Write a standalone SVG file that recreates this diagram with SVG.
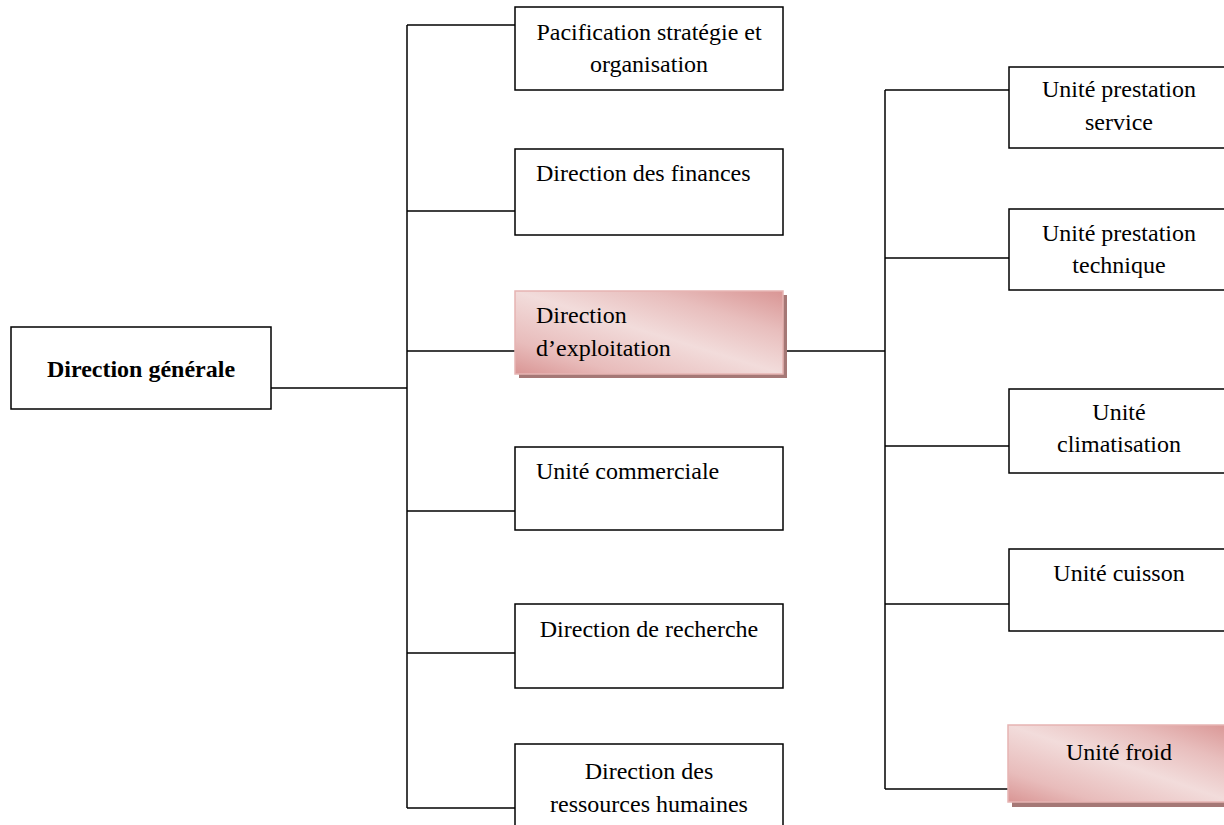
<svg xmlns="http://www.w3.org/2000/svg" width="1224" height="825" viewBox="0 0 1224 825">
<defs>
<linearGradient id="pk" x1="0" y1="1" x2="1" y2="0">
<stop offset="0" stop-color="#d99594"/>
<stop offset="0.2" stop-color="#e8bcbb"/>
<stop offset="0.5" stop-color="#f2dcdb"/>
<stop offset="0.75" stop-color="#e8bebd"/>
<stop offset="1" stop-color="#d99594"/>
</linearGradient>
<style>
.b{fill:#fff;stroke:#000;stroke-width:1.5}
.p{fill:url(#pk);stroke:#e6b4b3;stroke-width:1.5}
.s{fill:#a57876}
#connectors line{stroke:#000;stroke-width:1.5}
</style>
</defs>
<rect width="1224" height="825" fill="#fff"/>
<g id="connectors">
<line x1="271" y1="388" x2="407" y2="388"/>
<line x1="407" y1="25" x2="407" y2="808"/>
<line x1="407" y1="25" x2="515" y2="25"/>
<line x1="407" y1="211" x2="515" y2="211"/>
<line x1="407" y1="351" x2="515" y2="351"/>
<line x1="407" y1="511" x2="515" y2="511"/>
<line x1="407" y1="653" x2="515" y2="653"/>
<line x1="407" y1="808" x2="515" y2="808"/>
<line x1="783" y1="351" x2="885" y2="351"/>
<line x1="885" y1="90" x2="885" y2="789"/>
<line x1="885" y1="90" x2="1009" y2="90"/>
<line x1="885" y1="258" x2="1009" y2="258"/>
<line x1="885" y1="446" x2="1009" y2="446"/>
<line x1="885" y1="604" x2="1009" y2="604"/>
<line x1="885" y1="789" x2="1009" y2="789"/>
</g>
<g font-family="'Liberation Serif', 'Times New Roman', serif" font-size="24" fill="#000">
<g id="n-dg">
<rect class="b" x="11" y="327" width="260" height="82"/>
<text x="141" y="377" text-anchor="middle" font-weight="bold">Direction générale</text>
</g>
<g id="n-pso">
<rect class="b" x="515" y="7" width="268" height="83"/>
<text x="649" y="40" text-anchor="middle">Pacification stratégie et</text>
<text x="649" y="72" text-anchor="middle">organisation</text>
</g>
<g id="n-df">
<rect class="b" x="515" y="149" width="268" height="86"/>
<text x="536" y="181">Direction des finances</text>
</g>
<g id="n-de">
<rect class="s" x="519" y="295" width="268" height="83"/>
<rect class="p" x="515" y="291" width="268" height="83"/>
<text x="536" y="323">Direction</text>
<text x="536" y="356">d’exploitation</text>
</g>
<g id="n-uc">
<rect class="b" x="515" y="447" width="268" height="83"/>
<text x="536" y="479">Unité commerciale</text>
</g>
<g id="n-dr">
<rect class="b" x="515" y="604" width="268" height="84"/>
<text x="649" y="637" text-anchor="middle">Direction de recherche</text>
</g>
<g id="n-drh">
<rect class="b" x="515" y="744" width="268" height="90"/>
<text x="649" y="779" text-anchor="middle">Direction des</text>
<text x="649" y="812" text-anchor="middle">ressources humaines</text>
</g>
<g id="n-ups">
<rect class="b" x="1009" y="67" width="225" height="81"/>
<text x="1119" y="97" text-anchor="middle">Unité prestation</text>
<text x="1119" y="130" text-anchor="middle">service</text>
</g>
<g id="n-upt">
<rect class="b" x="1009" y="209" width="225" height="81"/>
<text x="1119" y="241" text-anchor="middle">Unité prestation</text>
<text x="1119" y="273" text-anchor="middle">technique</text>
</g>
<g id="n-ucl">
<rect class="b" x="1009" y="389" width="225" height="84"/>
<text x="1119" y="420" text-anchor="middle">Unité</text>
<text x="1119" y="452" text-anchor="middle">climatisation</text>
</g>
<g id="n-ucu">
<rect class="b" x="1009" y="549" width="225" height="82"/>
<text x="1119" y="581" text-anchor="middle">Unité cuisson</text>
</g>
<g id="n-uf">
<rect class="s" x="1012" y="730" width="225" height="77"/>
<rect class="p" x="1008" y="725" width="225" height="77"/>
<text x="1119" y="760" text-anchor="middle">Unité froid</text>
</g>
</g>
</svg>
